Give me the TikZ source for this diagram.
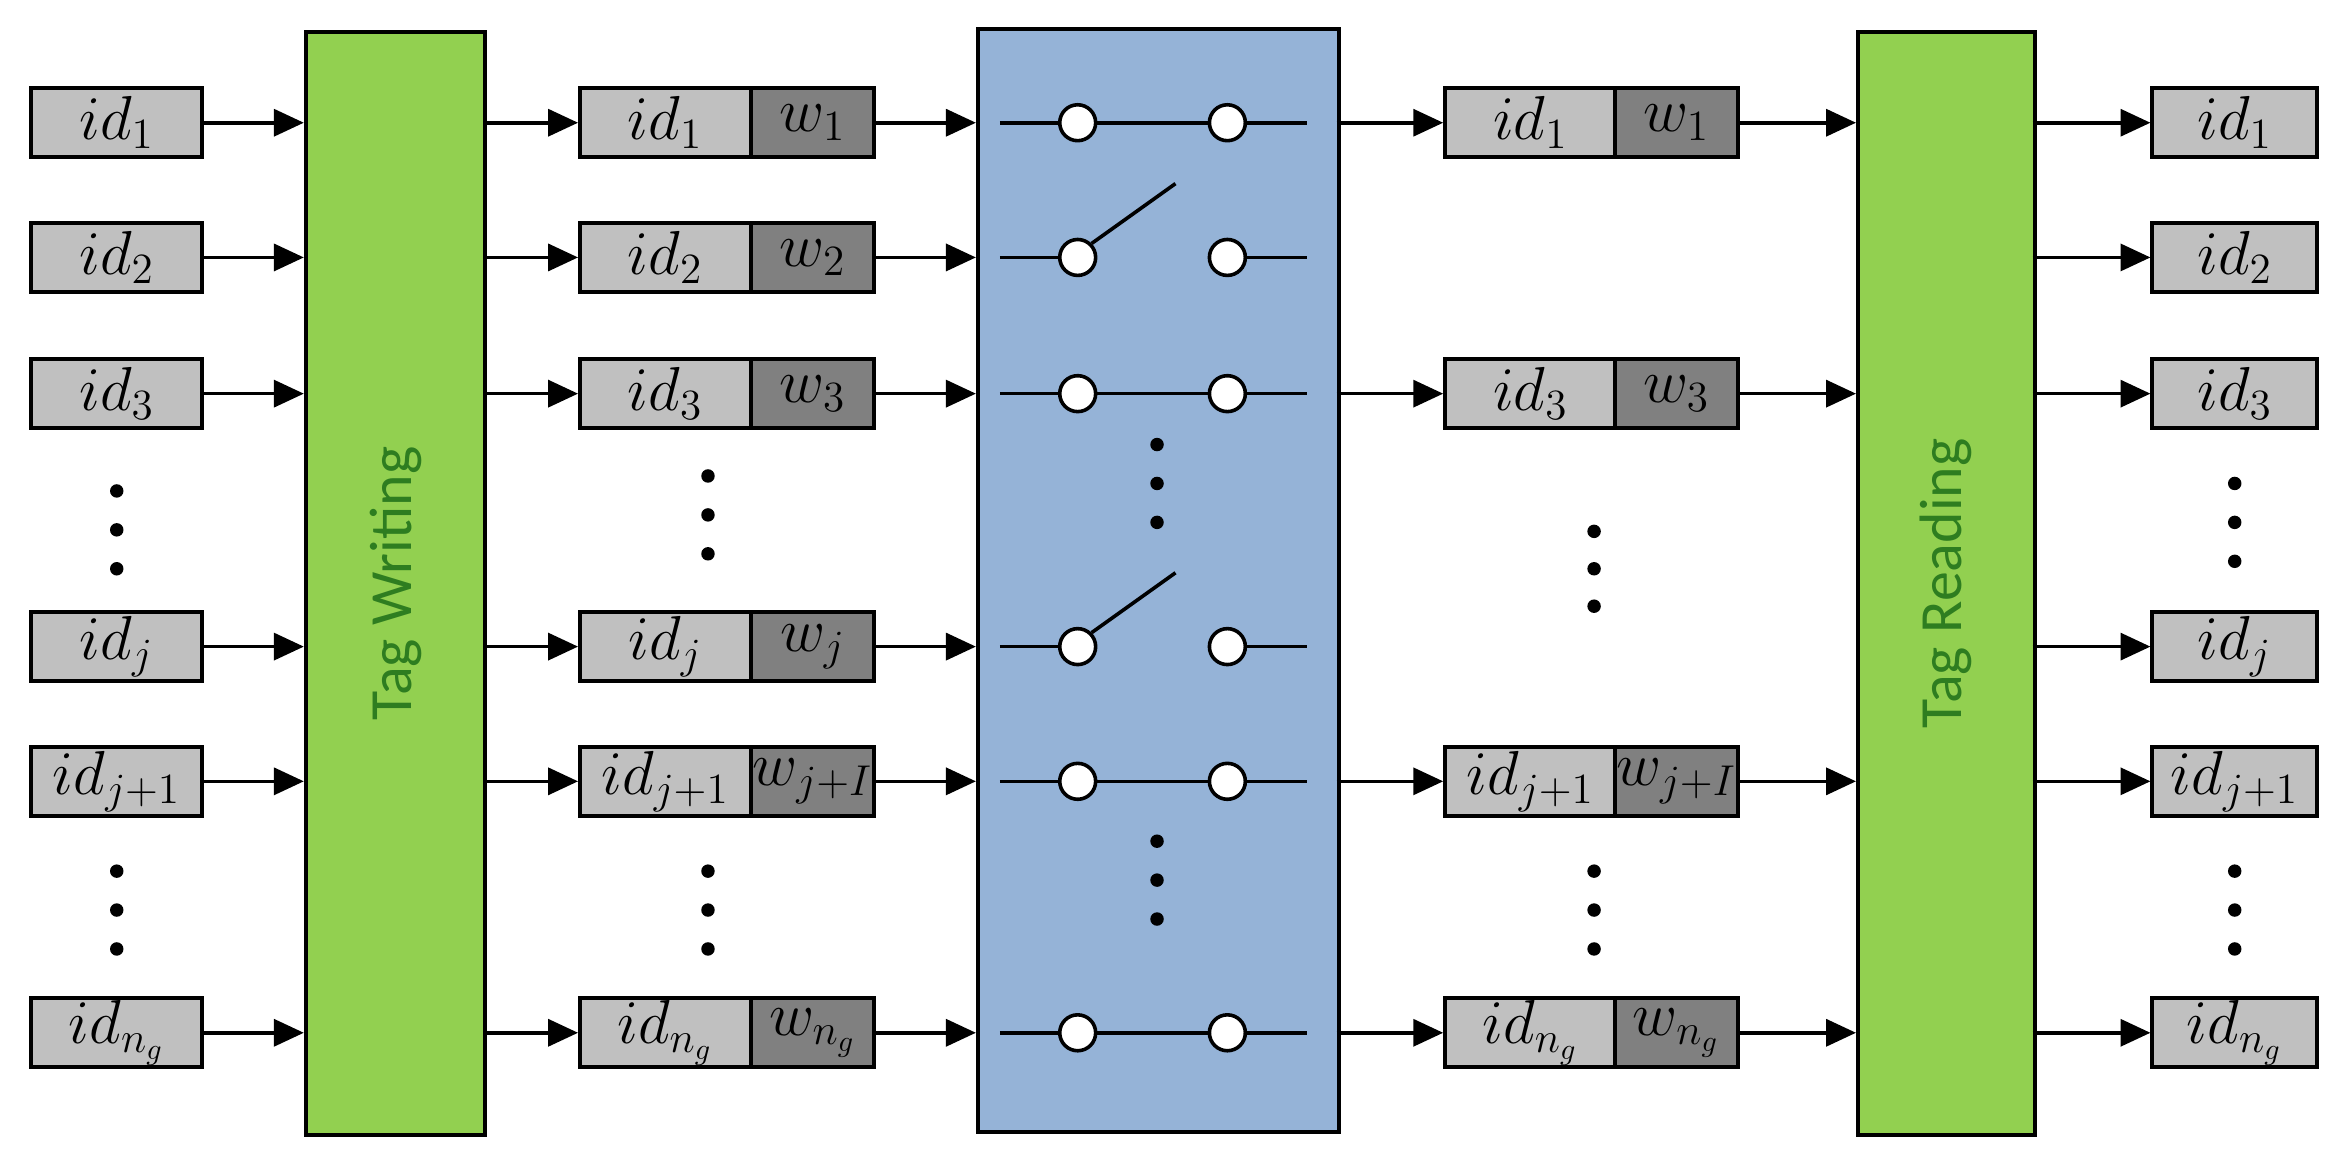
\documentclass[tikz,border=0pt]{standalone}
\usepackage{fontspec}
\setmainfont{Liberation Serif}
\newfontfamily\carl{Carlito}
\usetikzlibrary{arrows.meta}
\definecolor{lg}{HTML}{C0C0C0}
\definecolor{dg}{HTML}{808080}
\definecolor{gr}{HTML}{92D050}
\definecolor{bl}{HTML}{95B3D7}
\definecolor{gt}{HTML}{2E7D20}
\begin{document}
\begin{tikzpicture}[x=0.5pt,y=-0.5pt,
 box/.style={draw,line width=1.3pt,fill=lg,minimum width=57pt,minimum height=23pt,inner sep=0pt,font=\fontsize{20}{22}\selectfont},
 wbox/.style={draw,line width=1.3pt,fill=dg,minimum width=41pt,minimum height=23pt,inner sep=0pt,font=\fontsize{20}{22}\selectfont},
 ar/.style={-{Triangle[length=10pt,width=9pt]},line width=1.2pt},
 ln/.style={line width=1.2pt},
 sw/.style={circle,draw,fill=white,line width=1.2pt,minimum size=12pt,inner sep=0pt},
 dot/.style={circle,fill=black,inner sep=0pt,minimum size=4.5pt}]
\useasboundingbox (0,0) rectangle (1560,770);
\node[draw,line width=1.3pt,fill=gr,minimum width=60pt,minimum height=368.5pt,anchor=north west] (tw) at (203,20) {};
\node[rotate=90,text=gt,font=\carl\fontsize{20}{22}\selectfont] at (tw.center) {Tag Writing};
\node[draw,line width=1.3pt,fill=gr,minimum width=59pt,minimum height=368.5pt,anchor=north west] (tr) at (1240,20) {};
\node[rotate=90,text=gt,font=\carl\fontsize{20}{22}\selectfont] at (tr.center) {Tag Reading};
\node[draw,line width=1.3pt,fill=bl,minimum width=120.5pt,minimum height=368.5pt,anchor=north west] (bx) at (652,18) {};
\foreach \n/\y/\s/\ws/\open/\pass in {1/82/1/1/0/1, 2/172/2/2/1/0, 3/263/3/3/0/1, j/432/j/j/1/0, k/522/{j+1}/{j+I}/0/1, g/690/{n_g}/{n_g}/0/1}{
  \node[box] (a\n) at (78,\y) {$id_{\s}$};
  \coordinate (ta\n) at (203,\y);
  \draw[ar] (a\n.east) -- (ta\n);
  \node[box] (m\n) at (444.5,\y) {$id_{\s}$};
  \node[wbox] (mw\n) at (543,\y) {$w_{\ws}$};
  \coordinate (tb\n) at (323,\y);
  \draw[ar] (tb\n) -- (m\n.west);
  \coordinate (bi\n) at (652,\y);
  \draw[ar] (mw\n.east) -- (bi\n);
  \node[sw] (c\n) at (720,\y) {};
  \node[sw] (d\n) at (820,\y) {};
  \coordinate (l\n) at (668,\y);
  \coordinate (r\n) at (873,\y);
  \draw[ln] (l\n) -- (c\n.west);
  \draw[ln] (d\n.east) -- (r\n);
  \ifnum\open=0 \draw[ln] (c\n.east) -- (d\n.west); \else \draw[ln] (c\n.45) -- ++(56,-40); \fi
  \ifnum\pass=1
    \coordinate (bo\n) at (893,\y);
    \node[box] (r2\n) at (1022.5,\y) {$id_{\s}$};
    \node[wbox] (rw\n) at (1120,\y) {$w_{\ws}$};
    \draw[ar] (bo\n) -- (r2\n.west);
    \coordinate (ti\n) at (1240,\y);
    \draw[ar] (rw\n.east) -- (ti\n);
  \fi
  \coordinate (to\n) at (1358,\y);
  \node[box,minimum width=55pt] (o\n) at (1493,\y) {$id_{\s}$};
  \draw[ar] (to\n) -- (o\n.west);
}
\foreach \x/\a/\b in {78/328/380, 78/582/634, 473/318/370, 473/582/634, 773/297/349, 773/562/614, 1065/355/405, 1065/582/634, 1493/323/375, 1493/582/634}{
  \node[dot] at (\x,\a) {};
  \node[dot] at (\x,{(\a+\b)/2}) {};
  \node[dot] at (\x,\b) {};
}
\end{tikzpicture}
\end{document}
